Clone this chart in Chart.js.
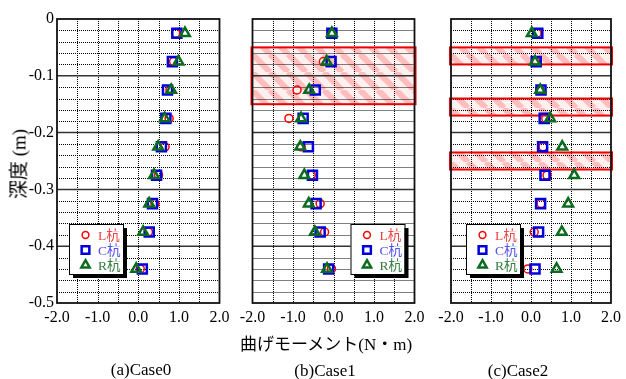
<!DOCTYPE html>
<html>
<head>
<meta charset="utf-8">
<script src="https://cdn.jsdelivr.net/npm/chart.js@4/dist/chart.umd.min.js"></script>
<style>
body { margin: 0; background: #fff; }
#wrap { position: relative; width: 626px; height: 379px; overflow: hidden; background: #fff;
  font-family: "Liberation Serif", "Noto Sans CJK JP", serif; }
canvas { position: absolute; left: 0; top: 0; }
.t { position: absolute; white-space: nowrap; color: #000; transform: translate(-50%, -50%); }
</style>
</head>
<body>
<div id="wrap">
  <canvas id="c0" width="626" height="379"></canvas>
  <canvas id="c1" width="626" height="379"></canvas>
  <canvas id="c2" width="626" height="379"></canvas>
  <div class="t" style="left:17px;top:164px;font-size:19px;transform:translate(-50%,-50%) rotate(-90deg)">深度 (m)</div>
  <div class="t" style="left:326px;top:342px;font-size:17px">曲げモーメント(N・m)</div>
  <div class="t" style="left:141px;top:370px;font-size:17px">(a)Case0</div>
  <div class="t" style="left:325px;top:371px;font-size:17px">(b)Case1</div>
  <div class="t" style="left:518px;top:371px;font-size:17px">(c)Case2</div>
</div>
<script>
// depth of each gauge (m)
const depths = [-0.025, -0.075, -0.125, -0.175, -0.225, -0.275, -0.325, -0.375, -0.44]

// bending moment (N・m), L / C / R piles
const case0L = [0.92, 0.87, 0.78, 0.76, 0.66, 0.50, 0.41, 0.25, 0.05]
const case0C = [0.95, 0.84, 0.72, 0.68, 0.57, 0.45, 0.35, 0.27, 0.10]
const case0R = [1.15, 0.99, 0.81, 0.65, 0.49, 0.39, 0.27, 0.12, -0.05]

const case1L = [-0.03, -0.25, -0.90, -1.10, -0.80, -0.55, -0.33, -0.22, -0.05]
const case1C = [-0.04, -0.06, -0.45, -0.75, -0.62, -0.52, -0.43, -0.33, -0.12]
const case1R = [-0.04, -0.17, -0.60, -0.80, -0.82, -0.72, -0.61, -0.46, -0.16]

const case2L = [0.15, 0.12, 0.22, 0.37, 0.30, 0.40, 0.25, 0.08, -0.08]
const case2C = [0.17, 0.13, 0.25, 0.33, 0.29, 0.35, 0.24, 0.19, 0.10]
const case2R = [0.02, 0.10, 0.23, 0.48, 0.78, 1.08, 0.93, 0.77, 0.64]

// hatched depth ranges [top, bottom]
const case1Bands = [[-0.05, -0.15]]
const case2Bands = [[-0.05, -0.08], [-0.14, -0.17], [-0.235, -0.265]]

const xTicks = [-2, -1, 0, 1, 2]
const yTicks = [0, -0.1, -0.2, -0.3, -0.4, -0.5]
const seriesNames = ["L杭", "C杭", "R杭"]

const FONT = "'Liberation Serif', 'Noto Sans CJK JP', serif"

function hatchPattern(ctx) {
    const t = document.createElement("canvas")
    t.width = 18; t.height = 18
    const g = t.getContext("2d")
    g.fillStyle = "rgba(255,225,225,0.5)"
    g.fillRect(0, 0, 18, 18)
    g.strokeStyle = "rgba(255,140,140,0.5)"
    g.lineWidth = 6
    for (const o of [-18, 0, 18]) {
        g.beginPath()
        g.moveTo(o, 0)
        g.lineTo(o + 18, 18)
        g.stroke()
    }
    return ctx.createPattern(t, "repeat")
}

const panelPlugin = {
    id: "panel",
    beforeDatasetsDraw(chart, args, opts) {
        const { ctx, chartArea: a, scales: { x, y } } = chart
        ctx.save()
        // hatched bands
        for (const [top, bot] of opts.bands) {
            ctx.fillStyle = hatchPattern(ctx)
            const y1 = y.getPixelForValue(top), y2 = y.getPixelForValue(bot)
            ctx.fillRect(a.left, y1, a.right - a.left, y2 - y1)
        }
        // dotted minor grid
        ctx.strokeStyle = "#000"
        ctx.lineWidth = 1
        ctx.setLineDash([1, 1])
        ctx.beginPath()
        for (let v = -1.5; v < 1.6; v += 0.5) {
            const px = Math.round(x.getPixelForValue(v)) + 0.5
            ctx.moveTo(px, a.top); ctx.lineTo(px, a.bottom)
        }
        for (let i = 1; i < 25; i++) {
            if (i % 5 === 0) continue
            const py = Math.round(y.getPixelForValue(-i * 0.02)) + 0.5
            ctx.moveTo(a.left, py); ctx.lineTo(a.right, py)
        }
        ctx.stroke()
        ctx.setLineDash([])
        // solid major lines
        ctx.strokeStyle = "#333"
        ctx.lineWidth = 1.5
        ctx.beginPath()
        for (const v of yTicks.slice(1, -1)) {
            const py = y.getPixelForValue(v)
            ctx.moveTo(a.left, py); ctx.lineTo(a.right, py)
        }
        ctx.stroke()
        // band outlines
        ctx.strokeStyle = "#e00"
        ctx.lineWidth = 2
        for (const [top, bot] of opts.bands) {
            const y1 = y.getPixelForValue(top), y2 = y.getPixelForValue(bot)
            ctx.strokeRect(a.left - 1, y1, a.right - a.left + 2, y2 - y1)
        }
        // frame
        ctx.strokeStyle = "#111"
        ctx.lineWidth = 1.8
        ctx.strokeRect(a.left, a.top, a.right - a.left, a.bottom - a.top)
        ctx.restore()
    },
    afterDraw(chart, args, opts) {
        const { ctx, chartArea: a } = chart
        const bx = a.left + opts.legendX, by = a.top + opts.legendY, bw = 54, bh = 50
        ctx.save()
        ctx.fillStyle = "#000"
        ctx.fillRect(bx + 4, by + 4, bw, bh)
        ctx.fillStyle = "#fff"
        ctx.fillRect(bx, by, bw, bh)
        ctx.strokeStyle = "#000"
        ctx.lineWidth = 1
        ctx.strokeRect(bx + 0.5, by + 0.5, bw, bh)
        const textColors = ["#ee4444", "#5050f0", "#337a3c"]
        chart.data.datasets.forEach((ds, i) => {
            const cy = by + 11 + i * 15
            ctx.strokeStyle = ds.borderColor
            ctx.fillStyle = "rgba(0,0,0,0)"
            ctx.lineWidth = ds.borderWidth
            Chart.helpers.drawPoint(ctx, {
                pointStyle: ds.pointStyle,
                radius: ds.pointRadius * 0.85,
                borderWidth: ds.borderWidth,
                rotation: 0
            }, bx + 16.5, cy)
            ctx.fillStyle = textColors[i]
            ctx.font = "13.5px " + FONT
            ctx.textBaseline = "middle"
            ctx.fillText(ds.label, bx + 29, cy + 1)
        })
        ctx.restore()
    }
}

function makePanel(id, left, right, L, C, R, bands, legendX, showY) {
    const pts = vals => vals.map((v, i) => ({ x: v, y: depths[i] }))
    new Chart(document.getElementById(id), {
        type: "scatter",
        data: {
            datasets: [
                { label: seriesNames[0], data: pts(L), pointStyle: "circle", pointRadius: 4,
                  borderColor: "#ff0000", borderWidth: 1.5, backgroundColor: "rgba(0,0,0,0)", order: 3 },
                { label: seriesNames[1], data: pts(C), pointStyle: "rect", pointRadius: 6.4,
                  borderColor: "#0000dd", borderWidth: 2.5, backgroundColor: "rgba(0,0,0,0)", order: 2 },
                { label: seriesNames[2], data: pts(R), pointStyle: "triangle", pointRadius: 5.6,
                  borderColor: "#0b6b1e", borderWidth: 2.5, backgroundColor: "rgba(0,0,0,0)", order: 1 }
            ]
        },
        options: {
            responsive: false,
            animation: false,
            layout: { padding: { left: showY ? left - 57 : left, right: 626 - right, top: 19, bottom: 46 } },
            plugins: {
                legend: { display: false },
                tooltip: { enabled: false },
                panel: { bands, legendX, legendY: 205 }
            },
            scales: {
                x: {
                    type: "linear", min: -2, max: 2,
                    afterBuildTicks: s => { s.ticks = xTicks.map(v => ({ value: v })) },
                    afterFit: s => { s.height = 30 },
                    grid: { display: false, drawTicks: false },
                    border: { display: false },
                    ticks: { autoSkip: false, maxRotation: 0, padding: 5, color: "#000",
                             font: { family: FONT, size: 16 }, callback: v => v.toFixed(1) }
                },
                y: {
                    type: "linear", min: -0.5, max: 0,
                    afterBuildTicks: s => { s.ticks = yTicks.map(v => ({ value: v })) },
                    afterFit: s => { s.width = showY ? 57 : 0 },
                    grid: { display: false, drawTicks: false },
                    border: { display: false },
                    ticks: { display: showY, autoSkip: false, padding: 3, color: "#000",
                             font: { family: FONT, size: 16 },
                             callback: v => Math.abs(v) < 1e-9 ? "0" : v.toFixed(1) }
                }
            }
        },
        plugins: [panelPlugin]
    })
}

makePanel("c0", 57, 219.5, case0L, case0C, case0R, [], 12, true)
makePanel("c1", 252.5, 414.5, case1L, case1C, case1R, case1Bands, 98, false)
makePanel("c2", 451, 614.5, case2L, case2C, case2R, case2Bands, 15, false)
</script>
</body>
</html>
